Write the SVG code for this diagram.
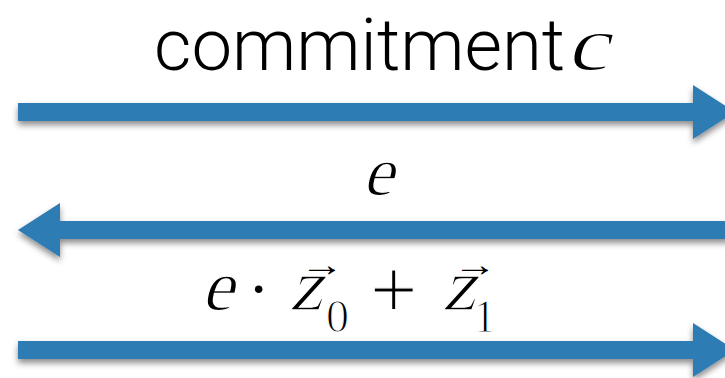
<svg xmlns="http://www.w3.org/2000/svg" width="725" height="378" viewBox="0 0 725 378">
<style>
.lbl{font-family:Roboto,"Liberation Sans",sans-serif;font-weight:300;fill:#000}
.mi{font-family:"Liberation Serif","DejaVu Serif",serif;fill:#000;stroke:#fff;stroke-width:1.4}
.mr{font-family:"Liberation Serif","DejaVu Serif",serif;fill:#000}
.thin{stroke:#fff;stroke-width:1.2}
.arrow{fill:#2f7bb4;filter:url(#sh)}
</style>
<defs>
<filter id="sh" x="-5%" y="-50%" width="110%" height="200%">
<feDropShadow dx="0" dy="4" stdDeviation="3" flood-color="#000" flood-opacity="0.45"/>
</filter>
</defs>
<g id="connectors">
<path class="arrow" d="M18 103 H693 V85 L735 112 L693 139 V121 H18 Z"/>
<path class="arrow" d="M730 221 H60 V203 L18 230 L60 257 V239 H730 Z"/>
<path class="arrow" d="M18 341 H693 V323 L735 350 L693 377 V359 H18 Z"/>
</g>
<g id="label1">
<text class="lbl" x="154" y="70" font-size="72.5">commitment</text>
<text class="mi" transform="translate(566,70) skewX(-15)" font-size="78" textLength="42" lengthAdjust="spacingAndGlyphs">c</text>
</g>
<g id="label2">
<text class="mi" transform="translate(362,195) skewX(-15)" font-size="70">e</text>
</g>
<g id="label3">
<text class="mi" transform="translate(201,310) skewX(-15)" font-size="72">e</text>
<text class="mr" x="248" y="310" font-size="64">·</text>
<text class="mi" transform="translate(289,310) skewX(-15)" font-size="74">z</text>
<text class="mr" x="300" y="276" font-size="34" textLength="44" lengthAdjust="spacingAndGlyphs">→</text>
<text class="mr thin" x="326" y="332" font-size="46">0</text>
<text class="mr thin" x="370" y="318" font-size="84">+</text>
<text class="mi" transform="translate(442,310) skewX(-15)" font-size="74">z</text>
<text class="mr" x="453" y="276" font-size="34" textLength="44" lengthAdjust="spacingAndGlyphs">→</text>
<text class="mr thin" x="473" y="332" font-size="46">1</text>
</g>
</svg>
